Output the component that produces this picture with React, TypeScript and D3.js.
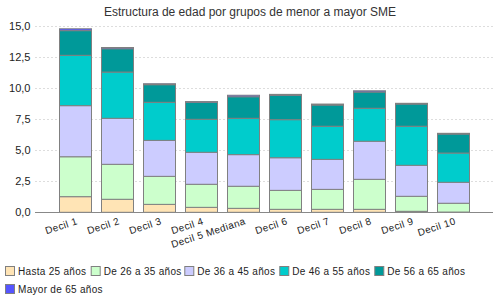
import React from "react";
import * as d3 from "d3";

const categories = ["Decil 1", "Decil 2", "Decil 3", "Decil 4", "Decil 5 Mediana", "Decil 6", "Decil 7", "Decil 8", "Decil 9", "Decil 10"];
const seriesNames = ["Hasta 25 años", "De 26 a 35 años", "De 36 a 45 años", "De 46 a 55 años", "De 56 a 65 años", "Mayor de 65 años"];
const seriesColors = ["#FFE4B5", "#CCFFCC", "#CCCCFF", "#00CCCC", "#009999", "#5555FF"];
const hasta25 = [1.26, 1.05, 0.64, 0.40, 0.32, 0.24, 0.24, 0.24, 0.08, 0.02];
const de26a35 = [3.22, 2.82, 2.26, 1.86, 1.78, 1.53, 1.61, 2.42, 1.21, 0.71];
const de36a45 = [4.12, 3.71, 2.90, 2.58, 2.55, 2.63, 2.42, 3.07, 2.50, 1.69];
const de46a55 = [4.06, 3.73, 3.07, 2.66, 2.93, 3.07, 2.67, 2.66, 3.15, 2.36];
const de56a65 = [1.99, 1.88, 1.42, 1.37, 1.74, 1.96, 1.71, 1.31, 1.79, 1.53];
const mayor65 = [0.15, 0.10, 0.08, 0.06, 0.12, 0.08, 0.08, 0.10, 0.06, 0.06];
const yTicks = [0, 2.5, 5, 7.5, 10, 12.5, 15];

const series = [hasta25, de26a35, de36a45, de46a55, de56a65, mayor65];
const FONT = "'Liberation Sans', Arial, sans-serif";

export default function App() {
  const W = 500, H = 300;
  const y = d3.scaleLinear().domain([0, 15]).range([212.3, 26.3]);
  const x = d3.scaleBand<string>().domain(categories).range([54.3, 474.3]).paddingInner(10 / 42).paddingOuter(5 / 42);
  const rows = categories.map((c, i) => {
    const r: any = { cat: c };
    seriesNames.forEach((s, j) => (r[s] = series[j][i]));
    return r;
  });
  const stacked = d3.stack<any>().keys(seriesNames)(rows);
  const fmt = (v: number) => d3.format(".1f")(v).replace(".", ",");
  const legendX = [5, 90.7, 184.3, 279.3, 374.3, 5];
  const legendY = [271, 271, 271, 271, 271, 289];

  return (
    <svg width={W} height={H} style={{ position: "absolute", left: 0, top: 0 }} fontFamily={FONT}>
      <rect x={0} y={0} width={W} height={H} fill="#fff" />
      <text x={250} y={16} textAnchor="middle" fontSize={12} fill="#333">Estructura de edad por grupos de menor a mayor SME</text>
      {yTicks.map((t) => (
        <g key={t}>
          {t > 0 && <line x1={35} x2={493} y1={Math.round(y(t)) + 0.5} y2={Math.round(y(t)) + 0.5} stroke="#ddd" strokeDasharray="2,2" />}
          <text x={30.5} y={y(t) + 4} textAnchor="end" fontSize={11} fill="#222">{fmt(t)}</text>
        </g>
      ))}
      {stacked.map((layer, j) => (
        <g key={j}>
          {layer.map((d, i) => (
            <rect key={i} x={Math.round(x(categories[i])!) + 0.5} y={y(d[1])} width={x.bandwidth()} height={Math.max(0, y(d[0]) - y(d[1]))}
              fill={seriesColors[j]} stroke="#808080" strokeWidth={1} />
          ))}
        </g>
      ))}
      <line x1={35} x2={493} y1={212.5} y2={212.5} stroke="#888" strokeWidth={1} />
      {categories.map((c) => {
        const cx = x(c)! + x.bandwidth() / 2 + 3;
        return (
          <text key={c} transform={`translate(${cx},224) rotate(-18)`} textAnchor="end" fontSize={10} letterSpacing={0.4} fill="#222">{c}</text>
        );
      })}
      {seriesNames.map((s, j) => (
        <g key={s}>
          <rect x={legendX[j] + 0.5} y={legendY[j] - 4.5} width={9} height={9} fill={seriesColors[j]} stroke="#808080" />
          <text x={legendX[j] + 13} y={legendY[j] + 3.5} fontSize={10} letterSpacing={0.3} fill="#222">{s}</text>
        </g>
      ))}
    </svg>
  );
}
